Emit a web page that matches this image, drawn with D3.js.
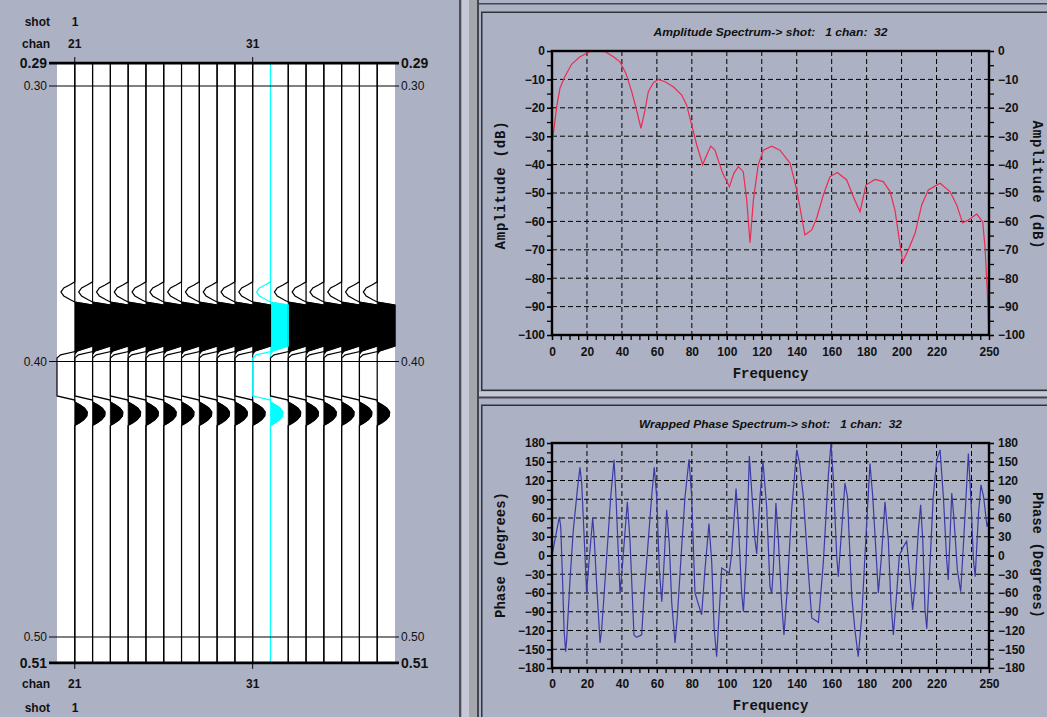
<!DOCTYPE html>
<html>
<head>
<meta charset="utf-8">
<script src="https://cdn.jsdelivr.net/npm/d3@7"></script>
<style>
  body { margin: 0; background: #adb1c4; }
  svg { display: block; font-family: "Liberation Sans", Arial, sans-serif; }
</style>
</head>
<body>
<svg id="chart" width="1047" height="717"></svg>
<script>
(function() {

  // ---- seismic section (left) ----
  var channels = [21, 22, 23, 24, 25, 26, 27, 28, 29, 30, 31, 32, 33, 34, 35, 36, 37, 38];
  var pickedChannel = 32;
  var chanLabels = [21, 31];
  var shotLabel = '1';
  var timeLabels = [0.30, 0.40, 0.50];
  var timeRange = [0.2917, 0.5094];

  // one wavelet, same on every trace (time in s, amplitude in trace spacings)
  var waveTime = [0.3711, 0.3722, 0.3733, 0.3748, 0.3762, 0.3777, 0.3784, 0.3795, 0.3944, 0.3962, 0.3976,
                  0.3987, 0.4125, 0.4140, 0.4147, 0.4158, 0.4169, 0.4183, 0.4198, 0.4212, 0.4223, 0.4232];
  var waveAmp  = [0, -0.3, -0.62, -0.78, -0.62, -0.22, 0, 1.2, 1.2, 0.15, -0.8,
                  -1.3, -1.3, 0, 0, 0.3, 0.55, 0.7, 0.68, 0.5, 0.25, 0];

  // ---- amplitude spectrum ----
  var ampFreq = [0, 0.8, 2.7, 4.6, 7.4, 11.3, 16, 21.7, 25.6, 30.3, 35.1, 38.9, 42.3, 45.6, 48.4, 50.9,
                 53.2, 55.1, 58, 60.8, 64.6, 69.4, 74.2, 77, 79.9, 82.8, 86.2, 88.5, 90.8, 93.2, 97.6,
                 101.5, 104.1, 106.6, 109.4, 111.4, 113.3, 115.2, 118, 120.9, 125.7, 130.4, 136.2, 140,
                 142.8, 144.7, 148.6, 151.4, 155.2, 159, 163.2, 168.6, 172.4, 176.2, 179.6, 184.8, 189.5,
                 193.4, 196.2, 198.7, 200.6, 203.8, 207.7, 211.5, 215.3, 222, 227.7, 231.5, 234.9, 238.2,
                 243, 246.4, 247.7, 249, 250];
  var ampDb = [-33, -29, -19.6, -13, -9, -4.6, -2, -0.2, 0, -0.2, -2, -3.8, -7.9, -14.3, -20.8, -27.2,
               -20.8, -14.3, -11.2, -10, -10.8, -12.6, -15.5, -19, -26, -33, -40, -36.6, -33.5, -34.9, -43,
               -47.8, -43, -40.7, -42.5, -52.5, -67.5, -52.5, -40, -34.9, -33.5, -34.9, -39.5, -48.9,
               -58.3, -64.8, -63, -58.9, -50.7, -44.3, -42.8, -45.4, -51.3, -56.6, -47.2, -45.2, -46,
               -49.5, -56, -66.5, -74.2, -70.1, -64.2, -54.2, -48.9, -46.6, -49.5, -54.2, -60.5, -59.5,
               -57.4, -60.1, -68.9, -84.2, -100];

  // ---- wrapped phase spectrum ----
  var phaseFreq = [0, 1.7, 4.2, 5, 6.1, 6.9, 7.8, 8.4, 10.3, 12.2, 14.5, 16, 17, 18.9, 19.8, 21.4, 23.3,
                   24.2, 25.6, 27.5, 28.4, 31.3, 33.6, 35.5, 36.6, 38.9, 40.4, 43.1, 44.6, 46.9, 48.4,
                   51.3, 52.6, 55.1, 57, 58.5, 59.9, 61.4, 62.8, 64.1, 65.6, 67.1, 68.5, 70.4, 71.7, 74.2,
                   76.1, 78.4, 79.9, 81.8, 85.6, 87.5, 89.8, 91.4, 92.7, 94.2, 95.1, 97.1, 101.4, 102.8,
                   105.3, 106.6, 108.5, 109.5, 111, 112.9, 114.2, 116.1, 117.1, 119, 120.7, 122.8, 124.7,
                   125.7, 126.6, 128.1, 129.5, 131.4, 132.7, 134.3, 137.1, 140, 141.5, 143.8, 146.7, 148.6,
                   152.4, 155.2, 158.1, 159.6, 161, 162.9, 163.8, 165.7, 167.6, 169, 171.5, 173.3, 175.2,
                   177.2, 179.6, 181.9, 183.5, 186.7, 188.6, 190.5, 192.4, 193.9, 195.3, 197.2, 198.7,
                   201, 202.9, 204.4, 206.3, 207.7, 209.6, 210.9, 212.1, 213.4, 214.4, 215.8, 218.1,
                   220.1, 222, 223.9, 225.8, 226.7, 228.7, 230, 231.9, 233.8, 235.3, 238.2, 239.6, 241.1,
                   242.1, 244, 245.4, 246.9, 248.9, 250];
  var phaseDeg = [0, 25, 62, 46, -44, -119, -154, -135, -39, 41, 105, 141, 115, -2, -60, -2, 60,
                  25, -50, -140, -119, -2, 94, 153, 94, -60, -12, 86, 25, -127, -131,
                  -127, -66, 25, 94, 141, 94, -23, -74, -12, 73, 19, -76, -140, -98, 14,
                  94, 154, 94, -60, -95, -23, 51, -12, -114, -162, -119, -20, -28, 3,
                  107, 51, -60, -90, -12, 159, 105, 25, 3, 94, 150, 78, -50,
                  -60, -23, 84, 25, -76, -127, -66, 73, 169, 150, 94, -28, -100,
                  -107, -12, 129, 179, 121, -2, -34, 41, 116, 94, -66, -119, -162,
                  -98, 30, 147, 94, -60, 3, 86, 25, -76, -127, -60, 0,
                  14, 23, -23, -87, -50, 41, 81, 25, -87, -117, -39, 94,
                  153, 169, 94, -7, -39, 100, 57, -23, -58, 14, 163, 94, -7,
                  -34, 67, 113, 94, 46, 57];

  var freqTicks = [0, 20, 40, 60, 80, 100, 120, 140, 160, 180, 200, 220, 250];
  var freqGrid = [20, 40, 60, 80, 100, 120, 140, 160, 180, 200, 220, 240];
  var ampTicks = [0, -10, -20, -30, -40, -50, -60, -70, -80, -90, -100];
  var phaseTicks = [180, 150, 120, 90, 60, 30, 0, -30, -60, -90, -120, -150, -180];

  var cyan = '#00ffff';
  var svg = d3.select('#chart');

  svg.append('rect').attr('width', 1047).attr('height', 717).attr('fill', '#adb1c4');

  // ---------- seismic section ----------
  var sx = d3.scaleLinear().domain([20, 39]).range([57, 395]);
  var sy = d3.scaleLinear().domain([0.30, 0.50]).range([86, 637]);
  var sp = sx(1) - sx(0);
  var clip = function(a) { return Math.max(-1, Math.min(1, a)); };

  var wave = [{t: timeRange[0], a: 0}]
    .concat(waveTime.map(function(t, i) { return {t: t, a: waveAmp[i]}; }))
    .concat([{t: timeRange[1], a: 0}]);

  var sec = svg.append('g');

  sec.append('rect')
    .attr('x', sx(20)).attr('y', sy(timeRange[0]))
    .attr('width', sx(39) - sx(20)).attr('height', sy(timeRange[1]) - sy(timeRange[0]))
    .attr('fill', '#fff');

  var fillArea = d3.area()
    .y(function(d) { return sy(d.t); })
    .x0(0)
    .x1(function(d) { return Math.max(0, clip(d.a)) * sp; });

  var wiggle = d3.line()
    .y(function(d) { return sy(d.t); })
    .x(function(d) { return clip(d.a) * sp; });

  // variable-area fill; thin stroke in the same colour closes seams between neighbours
  sec.selectAll('path.fill').data(channels).join('path')
    .attr('class', 'fill')
    .attr('transform', function(d) { return 'translate(' + sx(d) + ',0)'; })
    .attr('d', fillArea(wave))
    .attr('fill', function(d) { return d === pickedChannel ? cyan : '#000'; })
    .attr('stroke', function(d) { return d === pickedChannel ? cyan : '#000'; })
    .attr('stroke-width', 0.8)
    .attr('stroke-linejoin', 'round');

  sec.selectAll('path.wig').data(channels).join('path')
    .attr('class', 'wig')
    .attr('transform', function(d) { return 'translate(' + sx(d) + ',0)'; })
    .attr('d', wiggle(wave))
    .attr('fill', 'none')
    .attr('stroke', function(d) { return d === pickedChannel ? cyan : '#000'; })
    .attr('stroke-width', 1.2);

  // timing lines
  sec.selectAll('line.tl').data(timeLabels).join('line')
    .attr('x1', 49).attr('x2', 399)
    .attr('y1', function(d) { return sy(d); }).attr('y2', function(d) { return sy(d); })
    .attr('stroke', '#000').attr('stroke-width', 1);

  sec.selectAll('line.edge').data(timeRange).join('line')
    .attr('x1', 49).attr('x2', 399)
    .attr('y1', function(d) { return sy(d); }).attr('y2', function(d) { return sy(d); })
    .attr('stroke', '#000').attr('stroke-width', 2.6);

  // channel ticks top + bottom
  chanLabels.forEach(function(c) {
    sec.append('line').attr('x1', sx(c)).attr('x2', sx(c))
      .attr('y1', sy(timeRange[0]) - 6).attr('y2', sy(timeRange[0])).attr('stroke', '#000');
    sec.append('line').attr('x1', sx(c)).attr('x2', sx(c))
      .attr('y1', sy(timeRange[1])).attr('y2', sy(timeRange[1]) + 6).attr('stroke', '#000');
  });

  var f2 = d3.format('.2f');

  function timeText(t, bold) {
    [[47, 'end'], [401, 'start']].forEach(function(p) {
      sec.append('text')
        .attr('x', p[0]).attr('y', sy(t)).attr('dy', '0.36em')
        .attr('text-anchor', p[1])
        .style('font-size', bold ? '14px' : '12px')
        .style('font-weight', bold ? 'bold' : 'normal')
        .attr('fill', '#111')
        .text(f2(t));
    });
  }
  timeLabels.forEach(function(t) { timeText(t, false); });
  timeRange.forEach(function(t) { timeText(t, true); });

  function headText(x, y, s, anchor) {
    sec.append('text').attr('x', x).attr('y', y)
      .attr('text-anchor', anchor)
      .style('font-size', '12px').style('font-weight', 'bold')
      .attr('fill', '#111').text(s);
  }
  headText(50, 26, 'shot', 'end');
  headText(75, 26, shotLabel, 'middle');
  headText(50, 48, 'chan', 'end');
  headText(50, 688, 'chan', 'end');
  headText(50, 712, 'shot', 'end');
  headText(75, 712, shotLabel, 'middle');
  chanLabels.forEach(function(c) {
    headText(sx(c), 48, c, 'middle');
    headText(sx(c), 688, c, 'middle');
  });

  // ---------- panel frames ----------
  var fr = svg.append('g');
  fr.append('rect').attr('x', 459).attr('y', 0).attr('width', 2.5).attr('height', 717).attr('fill', '#4b4d57');
  fr.append('rect').attr('x', 461.5).attr('y', 0).attr('width', 7.5).attr('height', 717).attr('fill', '#c6c9d5');
  fr.append('rect').attr('x', 469).attr('y', 0).attr('width', 8).attr('height', 717).attr('fill', '#a6a7ad');
  fr.append('rect').attr('x', 477).attr('y', 0).attr('width', 2).attr('height', 717).attr('fill', '#44464f');
  fr.append('rect').attr('x', 477).attr('y', 3).attr('width', 570).attr('height', 1.5).attr('fill', '#44464f');
  fr.append('rect').attr('x', 479).attr('y', 392).attr('width', 568).attr('height', 4.5).attr('fill', '#c6c9d5');
  fr.append('rect').attr('x', 477).attr('y', 396.5).attr('width', 570).attr('height', 2).attr('fill', '#44464f');
  fr.append('rect').attr('x', 481.75).attr('y', 12.25).attr('width', 570).attr('height', 378)
    .attr('fill', 'none').attr('stroke', '#30323a').attr('stroke-width', 1.5);
  fr.append('rect').attr('x', 481.75).attr('y', 405.25).attr('width', 570).attr('height', 330)
    .attr('fill', 'none').attr('stroke', '#30323a').attr('stroke-width', 1.5);

  // ---------- spectrum plots ----------
  var fx = d3.scaleLinear().domain([0, 250]).range([552, 989]);

  function spectrum(o) {
    var y = o.y;
    var top = y.range()[1], bot = y.range()[0];
    var g = svg.append('g');
    var L = fx(0), R = fx(250);

    g.selectAll('line.vg').data(freqGrid).join('line')
      .attr('x1', fx).attr('x2', fx).attr('y1', top).attr('y2', bot)
      .attr('stroke', '#000').attr('stroke-dasharray', '5,3');
    g.selectAll('line.hg').data(o.grid).join('line')
      .attr('x1', L).attr('x2', R).attr('y1', y).attr('y2', y)
      .attr('stroke', '#000').attr('stroke-dasharray', '5,3');

    var line = d3.line()
      .x(function(d) { return fx(d[0]); })
      .y(function(d) { return y(d[1]); });
    g.append('path')
      .datum(o.xs.map(function(f, i) { return [f, o.ys[i]]; }))
      .attr('d', line)
      .attr('fill', 'none').attr('stroke', o.color).attr('stroke-width', 1.2);

    function styleAxis(ax) {
      ax.select('.domain').remove();
      ax.selectAll('line').attr('stroke', '#000').attr('stroke-width', 1.3);
      ax.selectAll('text').attr('fill', '#111')
        .style('font-size', '12px').style('font-weight', 'bold')
        .style('font-family', '"Liberation Sans", Arial, sans-serif');
    }

    var fmt = d3.format('d');
    styleAxis(g.append('g').attr('transform', 'translate(0,' + bot + ')')
      .call(d3.axisBottom(fx).tickValues(d3.range(0, 251, 5)).tickSize(5).tickFormat('')));
    styleAxis(g.append('g').attr('transform', 'translate(0,' + bot + ')')
      .call(d3.axisBottom(fx).tickValues(freqTicks).tickSize(5).tickPadding(o.xPad).tickFormat(fmt)));

    [[d3.axisLeft, L], [d3.axisRight, R]].forEach(function(a) {
      styleAxis(g.append('g').attr('transform', 'translate(' + a[1] + ',0)')
        .call(a[0](y).tickValues(o.minor).tickSize(5).tickFormat('')));
      styleAxis(g.append('g').attr('transform', 'translate(' + a[1] + ',0)')
        .call(a[0](y).tickValues(o.ticks).tickSize(5).tickPadding(a[1] === L ? 2 : 4).tickFormat(fmt)));
    });

    g.append('rect').attr('x', L).attr('y', top).attr('width', R - L).attr('height', bot - top)
      .attr('fill', 'none').attr('stroke', '#000').attr('stroke-width', 2.4);

    g.append('text')
      .attr('x', (L + R) / 2).attr('y', o.titleY)
      .attr('text-anchor', 'middle')
      .attr('textLength', o.titleW).attr('lengthAdjust', 'spacingAndGlyphs')
      .style('white-space', 'pre')
      .style('font-size', '11px').style('font-weight', 'bold').style('font-style', 'italic')
      .attr('fill', '#111')
      .text(o.title);

    var mono = { 'font-family': '"Liberation Mono", "DejaVu Sans Mono", monospace',
                 'font-size': '14px', 'font-weight': 'bold' };
    function monoText(sel) {
      Object.keys(mono).forEach(function(k) { sel.style(k, mono[k]); });
      return sel.attr('fill', '#111');
    }
    monoText(g.append('text').attr('x', (L + R) / 2).attr('y', o.xLabY)
      .attr('text-anchor', 'middle').text('Frequency'));

    var cy = o.yLabCy;
    monoText(g.append('text')
      .attr('transform', 'translate(500,' + cy + ') rotate(-90)')
      .attr('text-anchor', 'middle').attr('dy', '0.35em')
      .style('letter-spacing', o.ls + 'px')
      .text(o.yLabel));
    monoText(g.append('text')
      .attr('transform', 'translate(1038,' + cy + ') rotate(90)')
      .attr('text-anchor', 'middle').attr('dy', '0.35em')
      .style('letter-spacing', o.ls + 'px')
      .text(o.yLabel));
  }

  spectrum({
    y: d3.scaleLinear().domain([-100, 0]).range([335, 51]),
    ticks: ampTicks,
    minor: d3.range(-100, 1, 5),
    grid: [-10, -20, -30, -40, -50, -60, -70, -80, -90],
    xs: ampFreq, ys: ampDb,
    color: '#ee2a50',
    title: 'Amplitude Spectrum-> shot:   1 chan:  32',
    titleY: 36, titleW: 234,
    xPad: 7, xLabY: 378,
    yLabel: 'Amplitude (dB)', yLabCy: 185, ls: 0.8
  });

  spectrum({
    y: d3.scaleLinear().domain([-180, 180]).range([668, 443]),
    ticks: phaseTicks,
    minor: d3.range(-180, 181, 15),
    grid: [150, 120, 90, 60, 30, 0, -30, -60, -90, -120, -150],
    xs: phaseFreq, ys: phaseDeg,
    color: '#3b3ba8',
    title: 'Wrapped Phase Spectrum-> shot:   1 chan:  32',
    titleY: 428, titleW: 263,
    xPad: 6, xLabY: 710,
    yLabel: 'Phase (Degrees)', yLabCy: 555, ls: 0
  });

})();
</script>
</body>
</html>
